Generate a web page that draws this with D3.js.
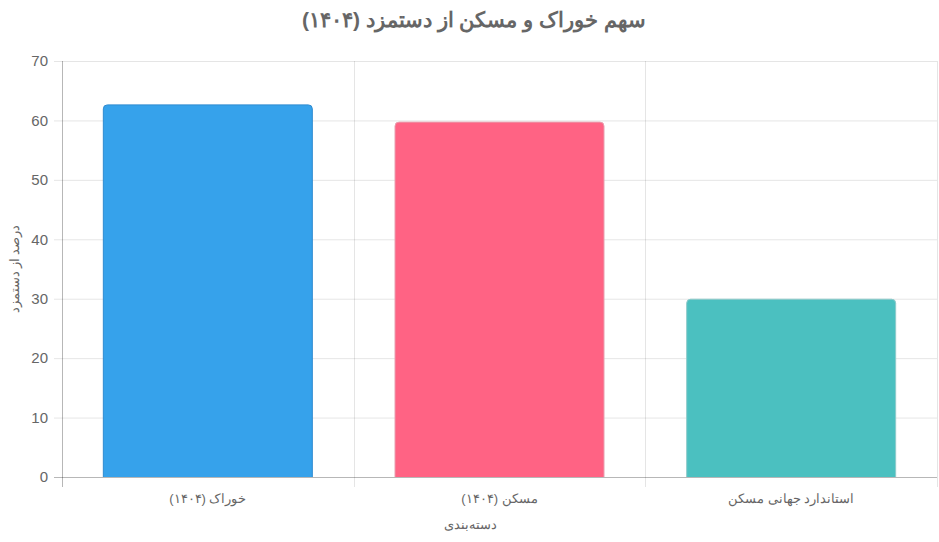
<!DOCTYPE html>
<html><head><meta charset="utf-8">
<script src="https://cdn.jsdelivr.net/npm/d3@7"></script>
<style>
html,body{margin:0;padding:0;background:#fff;}
svg{display:block;font-family:"Helvetica Neue",Helvetica,Arial,sans-serif;}
</style></head>
<body><svg id="c" width="939" height="542"></svg>
<script>
const title = "سهم خوراک و مسکن از دستمزد (۱۴۰۴)";
const categories = ["خوراک (۱۴۰۴)", "مسکن (۱۴۰۴)", "استاندارد جهانی مسکن"];
const values = [62.7, 59.8, 30];
const colors = ["#36A2EB", "#FF6384", "#4BC0C0"];
const borderColors = ["#2e8bd0", "#e8a0b0", "#8fcaca"];
const yTicks = [0, 10, 20, 30, 40, 50, 60, 70];
const yTitle = "درصد از دستمزد";
const xTitle = "دسته‌بندی";

const svg = d3.select("#c");
const m = {l:62, r:937, t:61, b:477};
const x = d3.scaleBand().domain(categories).range([m.l, m.r]).paddingInner(0).paddingOuter(0);
const y = d3.scaleLinear().domain([0, 70]).range([m.b, m.t]);

// horizontal grid
svg.append("g").selectAll("line").data(yTicks).join("line")
  .attr("x1", m.l - 8).attr("x2", m.r)
  .attr("y1", d => y(d)+0.5).attr("y2", d => y(d)+0.5)
  .attr("stroke", "rgba(0,0,0,0.1)");
// vertical grid at category boundaries
const bounds = categories.map(c => x(c)).concat([m.r]);
svg.append("g").selectAll("line").data(bounds).join("line")
  .attr("x1", d => Math.round(d)+0.5).attr("x2", d => Math.round(d)+0.5)
  .attr("y1", m.t).attr("y2", m.b + 10)
  .attr("stroke", "rgba(0,0,0,0.1)");
// axis lines
svg.append("line").attr("x1", m.l+0.5).attr("x2", m.l+0.5).attr("y1", m.t).attr("y2", m.b+10).attr("stroke","rgba(0,0,0,0.2)");
svg.append("line").attr("x1", m.l-8).attr("x2", m.r).attr("y1", m.b+0.5).attr("y2", m.b+0.5).attr("stroke","rgba(0,0,0,0.2)");

// y tick labels
svg.append("g").selectAll("text").data(yTicks).join("text")
  .attr("x", 48).attr("y", d => y(d)).attr("dy", "0.35em")
  .attr("text-anchor", "end").attr("fill", "#666").attr("font-size", 15)
  .text(d => d);

// bars
const bw = x.bandwidth() * 0.72;
const r = 4;
svg.append("g").selectAll("path").data(values).join("path")
  .attr("d", (v, i) => {
    const cx = x(categories[i]) + x.bandwidth()/2;
    const x0 = cx - bw/2 + 0.5, x1 = cx + bw/2 - 0.5, y0 = y(v) + 0.5, yb = y(0);
    return `M${x0},${yb}V${y0+r}Q${x0},${y0} ${x0+r},${y0}H${x1-r}Q${x1},${y0} ${x1},${y0+r}V${yb}`;
  })
  .attr("fill", (v, i) => colors[i])
  .attr("stroke", (v, i) => borderColors[i]).attr("stroke-width", 1);

// x labels
svg.append("g").selectAll("text").data(categories).join("text")
  .attr("x", d => x(d) + x.bandwidth()/2).attr("y", 503)
  .attr("text-anchor", "middle").attr("fill", "#666").attr("font-size", 13)
  .attr("direction", "rtl").attr("unicode-bidi", "plaintext")
  .text(d => d);

// axis titles
svg.append("text").attr("x", 470).attr("y", 529).attr("text-anchor", "middle")
  .attr("fill", "#666").attr("font-size", 12.5).text(xTitle);
svg.append("text").attr("transform", "translate(15,269) rotate(-90)").attr("text-anchor", "middle")
  .attr("dy", "0.35em").attr("fill", "#666").attr("font-size", 12.5).text(yTitle);

// title
svg.append("text").attr("x", 474).attr("y", 27).attr("text-anchor", "middle")
  .attr("fill", "#666").attr("font-size", 21).attr("font-weight", "bold")
  .attr("direction", "rtl").attr("unicode-bidi", "plaintext")
  .text(title);
</script></body></html>
